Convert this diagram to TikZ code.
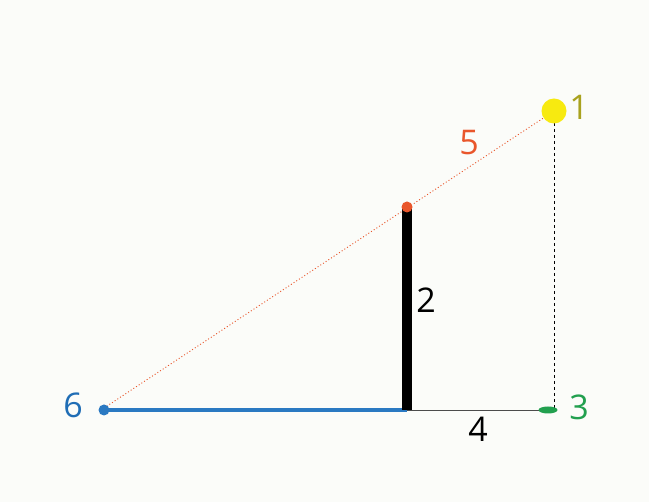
\documentclass[tikz,border=0pt]{standalone}
\usepackage{fontspec}
\setmainfont{Open Sans}
\usetikzlibrary{shapes.geometric}
\definecolor{bg}{HTML}{FBFCF9}
\definecolor{sunY}{HTML}{F7EA10}
\definecolor{oliveT}{HTML}{A9A21E}
\definecolor{orangeR}{HTML}{E9562B}
\definecolor{greenT}{HTML}{22A04F}
\definecolor{blueT}{HTML}{1F6DB5}
\definecolor{blueL}{HTML}{2A79C2}
\begin{document}
\begin{tikzpicture}[x=1pt,y=-1pt,
  lbl/.style={font=\fontsize{34}{34}\selectfont, inner sep=0pt}]
\fill[bg] (0,0) rectangle (649,502);
\useasboundingbox (0,0) rectangle (649,502);
\coordinate (sun) at (554,111);
\coordinate (shadowtip) at (104,408);
\coordinate (pbot) at (407,410);
\coordinate (ptop) at (407,207);
\coordinate (foot) at (554,410);
\coordinate (left) at (104,410);
% dotted ray
\draw[orangeR, line width=0.9pt, dash pattern=on 1pt off 2.2pt] (shadowtip) -- (sun);
% dashed vertical
\draw[black, line width=0.8pt, dash pattern=on 3pt off 3pt] (sun) -- (foot);
% ground gray
\draw[black!70, line width=0.8pt] (pbot) -- (foot);
% blue shadow
\draw[blueL, line width=3.2pt] (left) -- (pbot);
% pole
\draw[black, line width=10pt] (pbot) -- (ptop);
% dots
\node[circle, fill=orangeR, minimum size=11pt, inner sep=0pt] (topdot) at (ptop) {};
\node[circle, fill=blueL, minimum size=11pt, inner sep=0pt] (leftdot) at (left) {};
\node[circle, fill=sunY, minimum size=25pt, inner sep=0pt] (sundot) at (sun) {};
\node[ellipse, fill=greenT, minimum width=19pt, minimum height=7pt, inner sep=0pt] (footdot) at (548,410) {};
% labels
\node[lbl, text=oliveT] (l1) at (579,107) {1};
\node[lbl, text=black] (l2) at (426,300) {2};
\node[lbl, text=greenT] (l3) at (579,407) {3};
\node[lbl, text=black] (l4) at (478,429) {4};
\node[lbl, text=orangeR] (l5) at (469,143) {5};
\node[lbl, text=blueT] (l6) at (73,405) {6};
\end{tikzpicture}
\end{document}
